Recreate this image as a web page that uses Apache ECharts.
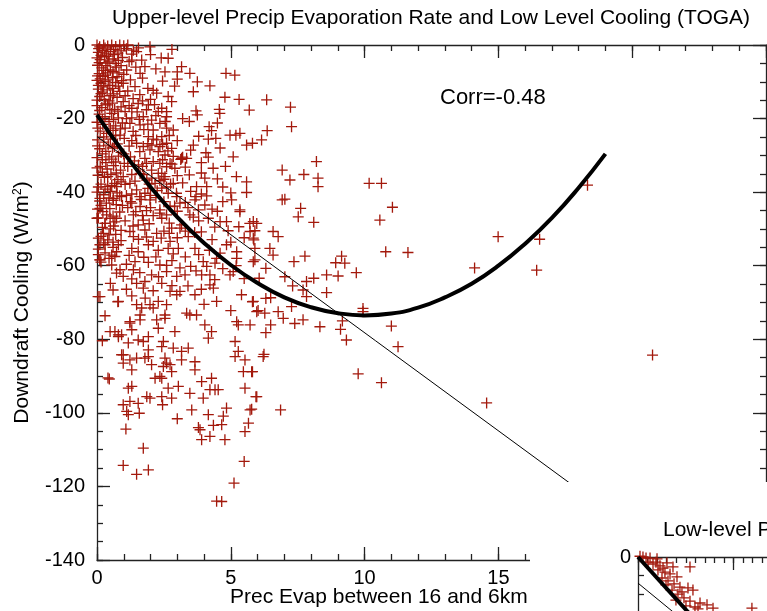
<!DOCTYPE html>
<html>
<head>
<meta charset="utf-8">
<script src="https://cdn.jsdelivr.net/npm/echarts@6/dist/echarts.min.js"></script>
<style>
  html, body { margin: 0; padding: 0; background: #fff; }
  #main { width: 767px; height: 611px; }
</style>
</head>
<body>
<div id="main"></div>
<script>
// main panel: precip evaporation (x) vs downdraft cooling (y)
const evapPoints = [
  // dense block near zero
  [0,0],[0.1,-0.5],[0.25,0],[0.4,-0.3],[0.55,0],[0.7,-0.4],[0.85,0],[1.0,-0.2],[1.15,0],
  [0.05,-2],[0.2,-1.5],[0.35,-2.4],[0.5,-1.8],[0.65,-2.6],[0.9,-1.6],
  [0,-3.5],[0.12,-4],[0.28,-3.2],[0.45,-4.4],[0.6,-3.8],[0.8,-4.2],
  [0.02,-5.5],[0.18,-6.2],[0.33,-5.6],[0.5,-6.8],[0.72,-6],
  [0.08,-7.8],[0.22,-8.5],[0.4,-7.6],[0.58,-8.9],
  [0,-9.6],[0.15,-10.4],[0.3,-9.9],[0.48,-11],[0.7,-10.2],
  [0.05,-12],[0.2,-12.8],[0.38,-12.2],[0.62,-13.3],
  [0.1,-14],[0.27,-14.8],[0.45,-15.2],[0.85,-12.6],
  [0,-16.5],[0.18,-17],[0.4,-16.3],[0.66,-17.5],[0.9,-16.8],
  [0.08,-18.8],[0.3,-19.5],[0.55,-18.6],[0.8,-19.8],
  [0,-21],[0.22,-21.6],[0.45,-20.8],[0.7,-22],[0.95,-21.2],
  [0.12,-23.4],[0.36,-24],[0.6,-23.2],[0.86,-24.5],
  [0.02,-25.8],[0.25,-26.4],[0.5,-25.6],[0.76,-26.9],
  [0.1,-28.2],[0.33,-28.9],[0.58,-28],[0.9,-29.2],
  [0,-30.6],[0.2,-31.2],[0.45,-30.4],[0.7,-31.8],
  [0.12,-33],[0.38,-33.7],[0.62,-32.8],[0.88,-34],
  [0.04,-35.4],[0.28,-36],[0.52,-35.2],[0.78,-36.6],
  [0.15,-37.8],[0.4,-38.5],[0.66,-37.6],
  [0,-40],[0.25,-40.7],[0.5,-39.8],[0.85,-41],
  [0.1,-42.4],[0.35,-43],[0.6,-42.2],
  [0.02,-44.6],[0.22,-45.3],[0.48,-44.5],
  [0.05,-47],[0.3,-48.5],[0.5,-50],[0.15,-52],[0.4,-53],[0.7,-51.5],
  [0.05,-55.5],[0.3,-56.5],[0.6,-55],[0.15,-59],[0.45,-58],
  [0.11,-58.4],[0.55,-59.8],[0.73,-62],[0.04,-68.4],[0.78,-69.8],[0.41,-90.5],
  [0.49,-77.9],[0.8,-78.8],[1.23,-75.6],
  [0.06,-1],[0.3,-0.8],[0.62,-1.2],[0.78,-2.2],[0.15,-2.8],[0.42,-3],[0.95,-3.4],[0.08,-4.8],
  [0.38,-4.9],[0.68,-5],[0.9,-5.6],[0.25,-6.9],[0.6,-7.2],[0.82,-7.6],[0.02,-8.4],[0.32,-8.2],
  [0.75,-8.6],[0.12,-9.2],[0.42,-9.5],[0.92,-9.7],[0.05,-11],[0.25,-11.4],[0.58,-11.8],
  [0.8,-11.2],[0.15,-13.2],[0.5,-13.8],[0.75,-14.2],[0,-15],[0.32,-16],[0.58,-15.8],
  [0.1,-17.8],[0.48,-17.6],[0.78,-18],[0.2,-20.2],[0.62,-20.2],[0.88,-22.8],[0.03,-22.6],
  [0.5,-22.6],[0.25,-25],[0.7,-24.6],[0.42,-27.2],[0.02,-27.4],[0.65,-27.6],[0.2,-29.6],
  [0.8,-30.2],[0.33,-32],[0.55,-31],[0,-33.4],[0.72,-34.8],[0.2,-34.6],[0.4,-35.8],
  [0.9,-37.2],[0.05,-38.6],[0.55,-38.2],[0.3,-39.2],[0.75,-40.2],[0.45,-41.6],[0.15,-43.6],
  [0.72,-43.4],[0.36,-46.2],[0.6,-46.5],[0.85,-45.4],[0.2,-49.6],[0.62,-49.2],[0.9,-50.4],
  [0.45,-51.6],[0.25,-53.8],[0.6,-53.6],[0.9,-53.2],[0.05,-57],
  // x 1 to 3
  [1.1,-1],[1.3,-2.5],[1.55,-0.8],[1.2,-4.5],[1.45,-6],[1.0,-8],[1.25,-9.5],[1.7,-9],
  [1.9,-11.8],[1.15,-12.5],[1.6,-13.5],[2.0,-2.6],[2.2,-6.5],[2.45,-9.8],[2.1,-12.3],
  [1.1,-20],[1.35,-23.5],[1.2,-27.5],[1.4,-31.5],[1.15,-33],[1.3,-40.5],[1.65,-42],
  [1.9,-39],[2.2,-41.5],[2.45,-27],[2.05,-27.2],[1.7,-33],[2.5,-36.5],[2.75,-37.8],
  [3.0,-35.5],[3.3,-33.2],[3.0,-26],[3.2,-20],[2.9,-11.2],[2.4,-3.5],[2.8,-1.2],
  [1.36,-1.4],[1.67,-4.1],[1.98,-0.5],[1.79,-5.9],[1.61,-7.7],[0.98,-10.4],[1.42,-11.3],
  [2.23,-13.1],[2.66,-14],[2.79,-15.4],[1.92,-16.3],[2.42,-17.2],[2.29,-18.1],[1.54,-15.9],
  [1.3,-17.2],[0.98,-15.4],[1.05,-18.1],[1.73,-19.5],[2.04,-20.4],[2.35,-21.3],[2.6,-22.6],
  [2.85,-23.1],[2.1,-23.1],[1.61,-21.7],[1.23,-21.3],[1.92,-24.9],[2.23,-25.8],[2.42,-24.9],
  [2.6,-26.7],[2.79,-28.1],[1.48,-26.7],[1.73,-27.6],[1.98,-28.5],[2.29,-29],[2.54,-29.9],
  [2.85,-30.3],[1.79,-30.8],[2.1,-31.7],[2.35,-32.2],[2.6,-33.1],[2.04,-34],[2.29,-34.9],
  [2.54,-35.8],[1.61,-34.9],[1.86,-36.7],[2.17,-37.6],[2.42,-38.9],[2.66,-40.3],[2.98,-41.2],
  [1.23,-37.6],[1.48,-39.4],[1.79,-40.3],[0.98,-35.8],[0.73,-38.5],[3.16,-30.8],[2.6,-19.5],
  [2.6,-18.1],[1.3,-4.1],[1.11,-6.8],[1.48,-1.8],
  [1.05,-13.8],[1.35,-14.6],[1.7,-15.2],[2.0,-14.8],[1.2,-16.5],[1.5,-18.2],[1.85,-17.6],
  [2.15,-16.2],[1.3,-19.8],[1.58,-20.2],[1.9,-21.5],[2.2,-19.2],[2.55,-20.8],[1.05,-22.6],
  [1.45,-24.6],[1.75,-23],[2.1,-25.6],[2.7,-24.6],[1.02,-25.4],[1.3,-26],[1.6,-29],
  [1.9,-26.8],[2.35,-27.6],[2.65,-28.8],[1.0,-29.6],[1.25,-30.4],[1.55,-32.6],[1.85,-32.2],
  [2.45,-31.2],[2.8,-32.4],[1.02,-32.2],[1.3,-35.2],[1.75,-35.2],[2.05,-36.2],[2.35,-36.9],
  [1.05,-37.9],[1.42,-37],[1.95,-37.8],[2.25,-39.6],[2.6,-38.6],[1.1,-40.9],[1.6,-41.2],
  [2.0,-40.9],[2.5,-42.6],[1.15,-44.2],[1.45,-45.3],[1.85,-45],[2.1,-46.4],[2.6,-46.2],
  [3.0,-45.2],[1.05,-47.8],[1.35,-49.2],[1.95,-48.6],[2.5,-50.6],[3.3,-50.6],[3.0,-52.4],
  [3.9,-50.8],[4.3,-52.9],[4.5,-45.2],[4.1,-41],[4.7,-38.6],[4.8,-33],[3.9,-32],[4.6,-28],
  [3.4,-44.2],[3.8,-47.8],
  // x 2.5 to 5.5, upper part
  [2.66,-3.6],[2.54,-7.3],[3.0,-7.3],[3.16,-5.9],[3.0,-9.3],[3.47,-7.7],[3.75,-10],[4.82,-7.7],
  [5.15,-8.2],[4.22,-11.1],[3.6,-12.7],[4.78,-14.2],[5.31,-14.8],[4.57,-17.5],[4.59,-18.6],
  [3.7,-17.9],[3.75,-19],[3.45,-20.8],[4.19,-22.2],[4.28,-23.3],[4.16,-25.6],[4.44,-25.4],
  [4.97,-24.5],[5.19,-24.5],[5.09,-30.4],[4.07,-29.3],[4.16,-30.5],[3.6,-27.2],[3.35,-30.8],
  [3.13,-31.1],[3.2,-30.5],[4.34,-33.5],[3.45,-35.3],[4.03,-36.2],[5.21,-35.8],[5.59,-37.2],
  [5.59,-40.1],[3.72,-38.5],[4.1,-38.5],[3.7,-41.2],[2.85,-37.6],[2.97,-40.3],[2.91,-33.5],
  [2.73,-32.2],[2.42,-34.9],
  [3.2,-37.5],[3.5,-39.8],[3.9,-40.5],[3.3,-42.8],[2.9,-43.8],[3.6,-46.8],[4.3,-44.6],
  [4.4,-49.5],[4.9,-50.5],[3.65,-51],[3.1,-49.8],[2.7,-48.4],[2.4,-52.5],[2.85,-56.8],
  [3.3,-57.6],[3.8,-57],[4.2,-55.8],[4.6,-56.6],[5.0,-53.6],[2.6,-59.9],[3.1,-60.6],
  [3.7,-61.4],[4.1,-60.2],[1.75,-57.7],[1.2,-57.2],[1.55,-52.8],[1.85,-52.2],[2.7,-51.2],
  [2.0,-44.2],[1.7,-46.4],[1.25,-42.6],[0.95,-43.6],[3.5,-28.6],[3.8,-24.8],[4.5,-21.2],
  [3.9,-34.8],[4.5,-36.4],[5.0,-40.2],[4.7,-42.6],[5.3,-49.4],[5.5,-52.4],[5.2,-60],
  [4.4,-63.8],[3.9,-66.4],[2.8,-65.4],[2.3,-63],[1.3,-63.6],[0.6,-66.6],[1.8,-68.8],[2.6,-70.6],
  // y -40 to -85
  [0.11,-41.7],[0.61,-41.7],[0.92,-41.2],[1.3,-43],[1.61,-43.9],[1.98,-42.1],[2.35,-44.8],
  [2.73,-43.9],[3.1,-43],[3.66,-42.1],[4.03,-43.5],[5.03,-42.1],[5.34,-44.8],[0.11,-44.4],
  [0,-47.1],[0.49,-47.1],[0.73,-47.1],[0.3,-48.5],[0.67,-48.1],[1.36,-46.2],[1.73,-47.6],
  [1.54,-48.9],[2.42,-47.1],[2.35,-45.7],[2.79,-49.8],[3.16,-48.9],[3.47,-46.2],[3.79,-44.8],
  [4.16,-47.1],[4.6,-48],[4.84,-48],[5.84,-48],[2.23,-51.2],[1.79,-50.3],[1.23,-50.7],
  [0.05,-52.5],[0.24,-51.2],[0.11,-54.3],[0.3,-54.3],[0.8,-54.3],[0.73,-56.2],[1.36,-52.1],
  [1.3,-55.3],[1.54,-56.2],[1.92,-54.3],[2.1,-53.4],[2.73,-53.4],[2.66,-55.3],[3.04,-55.3],
  [2.29,-55.8],[3.41,-52.1],[3.66,-55.3],[3.97,-58.9],[4.41,-59.3],[4.47,-58],[4.84,-54.3],
  [5.22,-56.2],[5.22,-58],[5.84,-58.9],[5.9,-55.3],[5.84,-52.5],[5.72,-50.7],[5.97,-48.5],
  [0.11,-58.4],[0.67,-57.5],[0.55,-57.1],[1.42,-58.9],[1.92,-59.1],[2.35,-59.8],[0.86,-61.1],
  [0.98,-62.9],[1.36,-61.1],[2.04,-62.5],[2.6,-61.6],[2.98,-62.9],[3.29,-62.5],[3.91,-62.5],
  [4.22,-62.5],[4.97,-62.5],[5.09,-61.6],[1.48,-64.8],[1.79,-64.3],[1.73,-66.1],[2.42,-64.8],
  [2.73,-67],[2.98,-67.9],[3.1,-67],[3.66,-67.9],[4.22,-65.2],[4.35,-66.1],[5.4,-67.9],
  [5.84,-69.7],[0.11,-68.4],[0.8,-69.7],[1.48,-70.6],[1.67,-71.5],[1.98,-70.6],[2.29,-69.7],
  [2.1,-71.5],[4.47,-69.7],[3.35,-72.9],[3.47,-73.4],[3.72,-73.4],[2.54,-73.4],[2.23,-74.7],
  [2.54,-74.3],[1.61,-73.4],[1.61,-74.7],[1.23,-75.2],[4.03,-76.1],[4.28,-77.9],[5.22,-75.2],
  [5.28,-76.1],[5.72,-76.1],[5.97,-72.5],[2.91,-77.9],[2.29,-77],[0.67,-77.9],[0.92,-78.8],
  [0.8,-79.3],[1.3,-77.4],[1.17,-81],[1.54,-80.2],[1.73,-80.6],[1.92,-79.3],[1.92,-82.9],
  [2.42,-82],[2.48,-80.6],[2.85,-82.4],[3.16,-83.3],[3.41,-82.4],[4.16,-79.7],[5.16,-80.6],
  [5.28,-83.3],[0.98,-84.2],[1.48,-85.1],
  [1.1,-59.6],[1.6,-61.9],[2.2,-57.6],[2.8,-58.6],[3.5,-60.2],[4.7,-60.8],[5.5,-63.5],
  [1.1,-66.4],[2.1,-66.8],[3.4,-65.5],[4.0,-70.5],[5.0,-72.2],[1.3,-68.2],[0.5,-64.8],
  [0.3,-73.6],[0.2,-80.4],
  // y -84 to -125
  [0.92,-84.2],[1.23,-85.6],[0.98,-86.5],[1.3,-88.3],[1.79,-85.1],[2.04,-86.9],[1.92,-84.7],
  [2.54,-85.1],[2.6,-86.5],[2.48,-87.4],[2.73,-86.9],[2.79,-88.8],[3.16,-85.6],[3.66,-86.1],
  [3.66,-88.3],[5.16,-84.7],[5.53,-85.6],[5.47,-88.8],[5.78,-88.8],[6.21,-84.7],[0.46,-90.8],
  [2.17,-90.6],[2.35,-90.1],[2.42,-90.6],[3.91,-91.5],[4.28,-90.6],[1.17,-93.3],[1.3,-92.8],
  [2.66,-93.3],[3.04,-92.8],[4.22,-93.7],[4.41,-93.7],[4.53,-93.7],[5.53,-93.3],[3.47,-94.7],
  [1.86,-95.6],[1.98,-96],[2.42,-95.6],[2.79,-96],[3.97,-96],[5.97,-95.6],[0.98,-97.8],
  [1.23,-96.9],[1.54,-97.4],[1.11,-99.6],[1.17,-100.5],[1.58,-100.1],[2.45,-97.8],[3.54,-99.2],
  [4.16,-100.5],[4.84,-98.7],[4.72,-100.9],[5.72,-99.2],[3.0,-101.6],[1.08,-104.4],[3.79,-104],
  [3.85,-104.6],[4.35,-103.4],[4.22,-106.4],[4.66,-103.2],[5.66,-102.8],[5.53,-105.1],
  [3.91,-107.3],[4.78,-107.3],[1.73,-109.6],[0.98,-114.3],[1.48,-116.7],[1.92,-115.5],
  [5.5,-113.2],[5.12,-119.1],[4.47,-124],[4.66,-124.1],
  // x beyond 5.5
  [6.34,-14.9],[7.23,-16.9],[7.27,-22.2],[6.36,-23.3],[6.15,-25.8],[5.81,-26.7],[8.2,-31.7],
  [6.92,-34],[7.73,-35.2],[7.21,-36.7],[8.26,-36.2],[8.26,-38.5],[10.17,-37.6],[10.63,-37.6],
  [11.04,-44.1],[10.57,-47.6],[6.92,-42.1],[7.02,-41.9],[7.61,-44.4],[7.52,-46.7],[8.1,-48.2],
  [5.71,-48.5],[5.9,-50.5],[6.58,-50.7],[6.77,-52.1],[5.86,-53],[6.46,-55.3],[6.58,-57.1],
  [5.9,-58.4],[7.36,-58.9],[7.77,-57.4],[10.79,-56.2],[11.62,-56.4],[9.14,-57.4],[8.92,-59.2],
  [9.26,-59.3],[9.69,-61.9],[8.58,-62.5],[9.01,-62.8],[6.31,-60.7],[6.06,-63.4],[7.02,-63],
  [8.1,-63.4],[7.83,-64.3],[7.31,-65.5],[7.7,-66.6],[8.58,-67.3],[7.83,-68.4],[6.31,-68.9],
  [6.49,-68.7],[5.81,-69.8],[7.27,-71.1],[6.02,-72.2],[6.27,-72.9],[6.77,-72.5],[6.96,-74.3],
  [7.39,-75.7],[7.7,-74.7],[9.94,-71.6],[9.94,-72.5],[9.17,-75],[9.1,-77.3],[9.32,-80.2],
  [8.33,-76.6],[6.49,-76.1],[6.31,-78.2],[11.0,-76.4],[11.25,-82],[9.76,-89.4],[10.63,-91.8],
  [6.24,-84.1],[5.81,-88.8],[5.94,-95.6],[6.86,-99.2],[5.78,-99],
  [5.69,-17.7],[5.34,-24],[5.59,-27.2],[5.34,-45.3],
  [14.99,-52.1],[16.54,-52.8],[18.33,-38.1],[16.43,-61.2],[14.11,-60.6],[14.56,-97.3],[20.76,-84.3]
];

// quadratic fit
const curveX = [0, 1, 2, 3, 4, 5, 6, 7, 8, 9, 10, 11, 12, 13, 14, 15, 16, 17, 18, 19];
const curveY = [-19, -29.3, -38.6, -46.8, -53.8, -59.8, -64.7, -68.6, -71.3, -72.9,
  -73.5, -73, -71.4, -68.6, -64.9, -60, -54, -47, -38.8, -29.6];

// linear fit
const lineX = [0, 20.8];
const lineY = [-24.9, -135.8];

// second panel (only its corner is visible)
const lowPoints = [
  [0.21,0.2],[0.52,0],[0.84,-0.3],[1.26,-0.3],[1.99,-0.5],[1.05,-1.4],[1.57,-1.9],[2.3,-2.4],
  [3.03,-1.6],[3.66,-2.7],[5.44,-2.7],[2.09,-3.5],[2.82,-4.1],[3.35,-4.6],[4.08,-5.4],
  [2.51,-5.7],[3.14,-6.5],[3.77,-7.3],[4.39,-8.2],[5.23,-8.4],[5.75,-9],[3.56,-9],[4.18,-10.1],
  [4.81,-11.1],[5.44,-12],[6.49,-12.5],[7.22,-13],[7.85,-13.9],[5.96,-13.6],[5.02,-13.3],
  [11.92,-13.9],[1.88,-1.4],[2.62,-3],[4.6,-9.5],[6.28,-14.1],[3.97,-11.7],[2.93,-7.6]
];
const lowCurveX = [0, 10];
const lowCurveY = [0, -28.6];
const lowLineX = [0, 10];
const lowLineY = [-7.1, -28.4];

const FONT = "'Liberation Sans', Arial, sans-serif";
const RED = '#a3190c';
const PLUS = 'path://M4.4,0h1.2v4.4h4.4v1.2h-4.4v4.4h-1.2v-4.4h-4.4v-1.2h4.4z';

function zip(xs, ys) {
  return xs.map((x, i) => [x, ys[i]]);
}

const inkLine = { color: '#222', width: 1.3 };
const labelStyle = { show: true, color: '#000', fontSize: 20, fontFamily: FONT };

// one frame side; a negative tick length points the ticks into the plot
function side(grid, pos, min, max, step, tickLen, withLine, extra) {
  return Object.assign({
    type: 'value',
    gridIndex: grid,
    position: pos,
    min: min,
    max: max,
    interval: step,
    axisLine: { show: withLine, onZero: false, lineStyle: inkLine },
    axisTick: { show: true, inside: false, length: tickLen, lineStyle: inkLine },
    minorTick: { show: false },
    splitLine: { show: false },
    axisLabel: { show: false }
  }, extra || {});
}

let chartDom = document.getElementById('main');
let myChart = echarts.init(chartDom);

const option = {
  animation: false,
  backgroundColor: '#fff',
  grid: [
    { left: 97, top: 45, width: 669, height: 515, containLabel: false, outerBoundsMode: 'none' },
    { left: 638, top: 557, width: 669, height: 515, containLabel: false, outerBoundsMode: 'none' }
  ],
  xAxis: [
    side(0, 'bottom', 0, 25, 5, -13, true, { axisLabel: Object.assign({ margin: 8 }, labelStyle) }),
    side(0, 'bottom', 0, 25, 1, -6, false),
    side(0, 'top', 0, 25, 5, -13, true),
    side(0, 'top', 0, 25, 1, -6, false),
    side(1, 'top', 0, 70, 10, -13, true, { z: 60 }),
    side(1, 'top', 0, 70, 1, -6, false, { z: 60 })
  ],
  yAxis: [
    side(0, 'left', -140, 0, 20, -13, true, {
      axisLabel: Object.assign({ margin: 12 }, labelStyle),
      name: '{a|Downdraft Cooling (W/m}{s|2}{a|)}',
      nameLocation: 'middle',
      nameRotate: 90,
      nameGap: 64,
      nameTextStyle: {
        rich: {
          a: { fontSize: 21, fontFamily: FONT, color: '#000' },
          s: { fontSize: 12, fontFamily: FONT, color: '#000', verticalAlign: 'top' }
        }
      }
    }),
    side(0, 'left', -140, 0, 5, -6, false),
    side(0, 'right', -140, 0, 20, -13, true),
    side(0, 'right', -140, 0, 5, -6, false),
    side(1, 'left', -140, 0, 20, -13, true, { z: 60, axisLabel: Object.assign({ margin: 7 }, labelStyle) }),
    side(1, 'left', -140, 0, 5, -6, false, { z: 60 })
  ],
  series: [
    {
      type: 'scatter',
      xAxisIndex: 0, yAxisIndex: 0,
      data: evapPoints,
      symbol: PLUS,
      symbolSize: 11,
      clip: false,
      itemStyle: { color: RED, opacity: 1 }
    },
    {
      type: 'line',
      xAxisIndex: 0, yAxisIndex: 0,
      data: zip(lineX, lineY),
      showSymbol: false,
      lineStyle: { color: '#000', width: 1 },
      z: 3
    },
    {
      type: 'line',
      xAxisIndex: 0, yAxisIndex: 0,
      data: zip(curveX, curveY),
      smooth: true,
      showSymbol: false,
      lineStyle: { color: '#000', width: 4 },
      z: 4
    },
    {
      type: 'scatter',
      xAxisIndex: 4, yAxisIndex: 4,
      data: lowPoints,
      symbol: PLUS,
      symbolSize: 11,
      clip: false,
      itemStyle: { color: RED, opacity: 1 },
      z: 60
    },
    {
      type: 'line',
      xAxisIndex: 4, yAxisIndex: 4,
      data: zip(lowLineX, lowLineY),
      showSymbol: false,
      lineStyle: { color: '#000', width: 1 },
      z: 61
    },
    {
      type: 'line',
      xAxisIndex: 4, yAxisIndex: 4,
      data: zip(lowCurveX, lowCurveY),
      showSymbol: false,
      lineStyle: { color: '#000', width: 4 },
      z: 62
    }
  ],
  graphic: [
    // white panel of the second plot, covering the corner of the first
    { type: 'rect', left: 530, top: 482, shape: { width: 237, height: 129 }, style: { fill: '#fff' }, z: 50 },
    { type: 'text', x: 431, y: 18, z: 70,
      style: { text: 'Upper-level Precip Evaporation Rate and Low Level Cooling (TOGA)',
        font: '21px ' + FONT, fill: '#000', align: 'center', verticalAlign: 'middle' } },
    { type: 'text', x: 440, y: 98, z: 70,
      style: { text: 'Corr=-0.48', font: '22px ' + FONT, fill: '#000', align: 'left', verticalAlign: 'middle' } },
    { type: 'text', x: 230, y: 597, z: 70,
      style: { text: 'Prec Evap between 16 and 6km', font: '21px ' + FONT, fill: '#000', align: 'left', verticalAlign: 'middle' } },
    { type: 'text', x: 663, y: 530, z: 70,
      style: { text: 'Low-level P', font: '21px ' + FONT, fill: '#000', align: 'left', verticalAlign: 'middle' } }
  ]
};

myChart.setOption(option);
</script>
</body>
</html>
